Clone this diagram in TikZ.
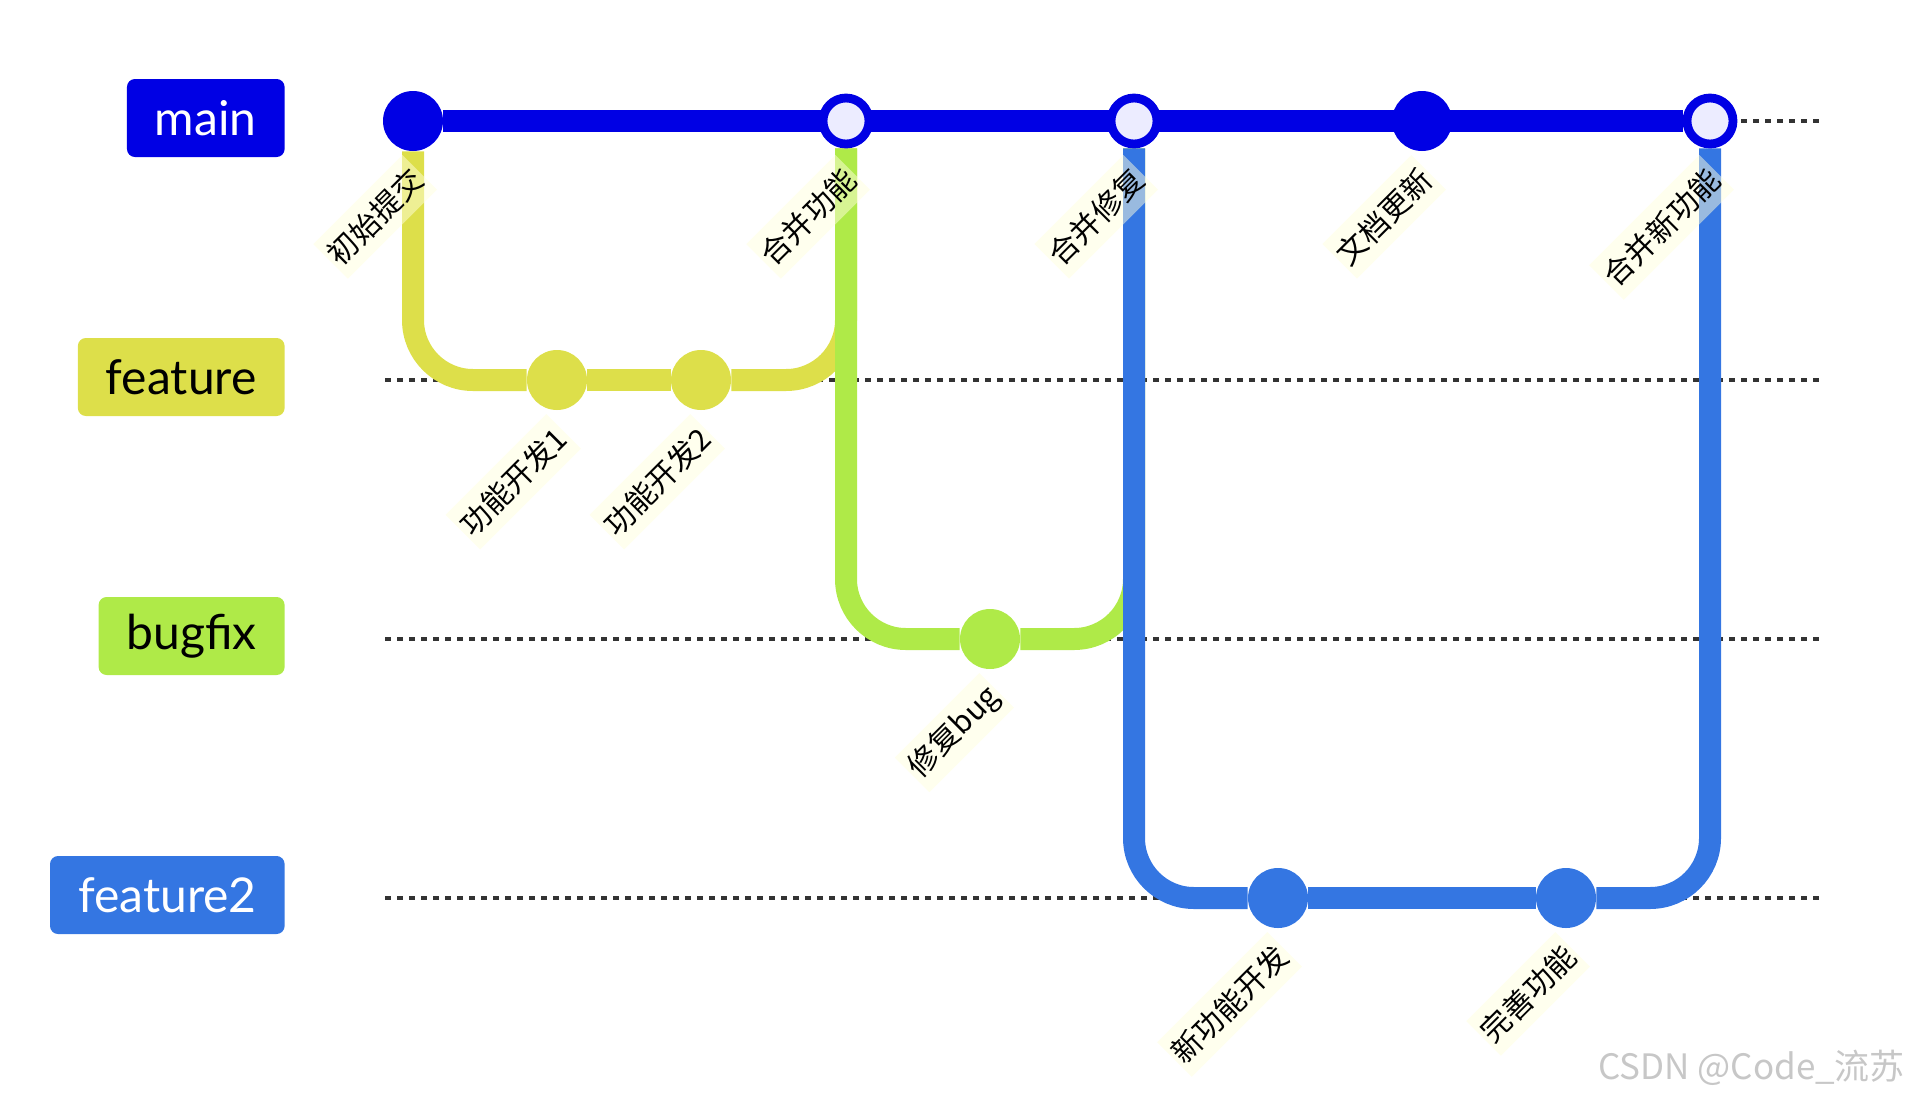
\documentclass[tikz,border=0pt]{standalone}
\usepackage{fontspec}
\setmainfont{Lato}
\newfontfamily\cjk{Noto Sans CJK SC}
\usetikzlibrary{positioning,calc}
\definecolor{gmain}{RGB}{0,0,228}
\definecolor{gfeat}{RGB}{221,223,74}
\definecolor{gfix}{RGB}{175,234,72}
\definecolor{gfeattwo}{RGB}{52,118,226}
\definecolor{mergefill}{RGB}{236,236,255}
\definecolor{lblbg}{RGB}{255,255,222}
\pgfdeclarelayer{lanes}
\pgfdeclarelayer{tracks}
\pgfsetlayers{lanes,tracks,main}

\begin{document}
\begin{tikzpicture}[
  x=0.5pt,y=-0.5pt,
  branch/.style={fill=#1, rounded corners=4pt, anchor=east, minimum height=39pt, inner xsep=14pt, font=\fontsize{24}{24}\selectfont},
  commit/.style={circle, fill=#1, minimum size=30pt, inner sep=0pt},
  mergecommit/.style={circle, draw=gmain, line width=4.4pt, fill=mergefill, minimum size=23pt, inner sep=0pt},
  clabel/.style={rotate=45, anchor=east, fill=lblbg, fill opacity=0.5, text opacity=1, inner xsep=1.5pt, inner ysep=0pt, minimum height=24.5pt, font=\cjk\fontsize{15}{15}\selectfont},
  track/.style={draw=#1, line width=11pt, rounded corners=30pt},
  lane/.style={draw=black!80, line width=1.6pt, dash pattern=on 3pt off 3pt}
]
\useasboundingbox (0,0) rectangle (1916,1098);
\node[branch=gmain, text=white] (bmain) at (285,118) {main};
\node[branch=gfeat] (bfeat) at (285,377) {feature};
\node[branch=gfix] (bfix) at (285,636) {bugfix};
\node[branch=gfeattwo, text=white] (bfeattwo) at (285,895) {feature2};
\node[commit=gmain] (c1) at (413,121) {};
\node[commit=gfeat] (c2) at (557,380) {};
\node[commit=gfeat] (c3) at (701,380) {};
\node[mergecommit] (c4) at (846,121) {};
\node[commit=gfix] (c5) at (990,639) {};
\node[mergecommit] (c6) at (1134,121) {};
\node[commit=gfeattwo] (c7) at (1278,898) {};
\node[commit=gmain] (c8) at (1422,121) {};
\node[commit=gfeattwo] (c9) at (1566,898) {};
\node[mergecommit] (c10) at (1710,121) {};
\node[clabel] (t1) at ([shift={(7,51)}]c1) {初始提交};
\node[clabel] (t2) at ([shift={(7,51)}]c2) {功能开发1};
\node[clabel] (t3) at ([shift={(7,51)}]c3) {功能开发2};
\node[clabel] (t4) at ([shift={(7,51)}]c4) {合并功能};
\node[clabel] (t5) at ([shift={(7,51)}]c5) {修复bug};
\node[clabel] (t6) at ([shift={(7,51)}]c6) {合并修复};
\node[clabel] (t7) at ([shift={(7,51)}]c7) {新功能开发};
\node[clabel] (t8) at ([shift={(7,51)}]c8) {文档更新};
\node[clabel] (t9) at ([shift={(7,51)}]c9) {完善功能};
\node[clabel] (t10) at ([shift={(7,51)}]c10) {合并新功能};
\begin{pgfonlayer}{lanes}
\foreach \y in {121,380,639,898}
  \draw[lane] (385,\y) -- (1821,\y);
\end{pgfonlayer}
\begin{pgfonlayer}{tracks}
\draw[track=gfeat] (c1) |- (c2);
\draw[track=gfeat] (c2) -- (c3);
\draw[track=gfeat] (c3) -| (c4);
\draw[track=gfix] (c4) |- (c5);
\draw[track=gfix] (c5) -| (c6);
\draw[track=gfeattwo] (c6) |- (c7);
\draw[track=gfeattwo] (c7) -- (c9);
\draw[track=gfeattwo] (c9) -| (c10);
\draw[track=gmain] (c1) -- (c10);
\end{pgfonlayer}
\node[anchor=east, text=black!22, font=\cjk\fontsize{17.5}{17.5}\selectfont] (wm) at (1912,1068) {CSDN @Code\_流苏};
\end{tikzpicture}
\end{document}
